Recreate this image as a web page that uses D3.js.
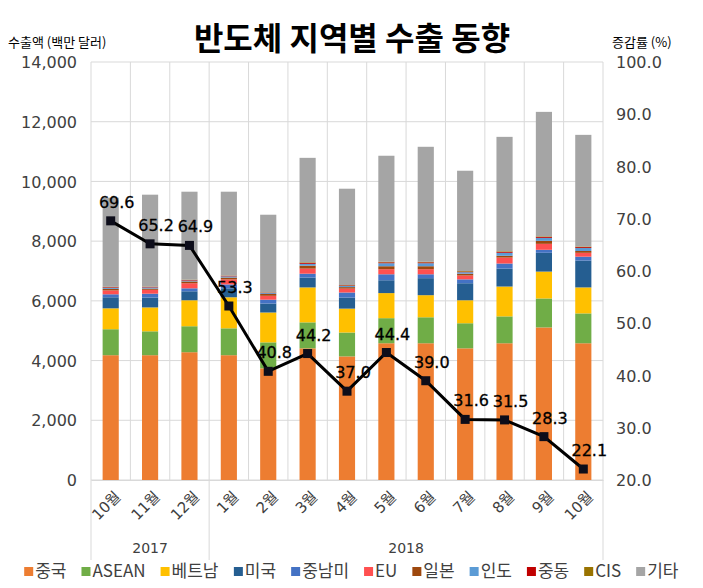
<!DOCTYPE html>
<html><head><meta charset="utf-8">
<script src="https://cdn.jsdelivr.net/npm/d3@7"></script>
<style>body{margin:0;background:#fff}svg{display:block}</style>
</head><body><svg id="c" width="703" height="588"></svg>
<script>
const months = ["10월","11월","12월","1월","2월","3월","4월","5월","6월","7월","8월","9월","10월"];
const years = [{label:"2017", from:0, to:3},{label:"2018", from:3, to:13}];
const regions = ["중국","ASEAN","베트남","미국","중남미","EU","일본","인도","중동","CIS","기타"];
const colors = ["#ED7D31","#70AD47","#FFC000","#255E91","#4472C4","#FF5050","#9E480E","#5B9BD5","#C00000","#997300","#A5A5A5"];
const china   = [4180,4180,4280,4180,3740,4410,4140,4580,4580,4410,4580,5110,4580];
const asean   = [870,800,870,900,870,870,800,840,870,840,900,970,1000];
const vietnam = [700,800,870,1040,1000,1170,800,840,740,770,1000,900,870];
const usa     = [370,330,300,300,300,330,370,430,570,570,600,630,900];
const latam   = [100,130,100,130,130,130,170,200,130,130,170,100,130];
const eu      = [130,130,170,170,130,170,130,170,170,130,200,200,130];
const japan   = [50,40,60,60,60,100,50,100,100,60,60,100,60];
const india   = [40,40,30,40,30,60,40,100,100,50,100,100,100];
const mideast = [20,20,20,20,15,30,20,30,30,20,30,30,30];
const cis     = [10,10,10,10,10,20,10,20,20,20,20,20,20];
const others  = [2985,3076,2946,2806,2600,3500,3226,3550,3850,3358,3833,4170,3740];
const growth  = [69.6,65.2,64.9,53.3,40.8,44.2,37.0,44.4,39.0,31.6,31.5,28.3,22.1];
const leftTicks = [0,2000,4000,6000,8000,10000,12000,14000];
const rightTicks = [20,30,40,50,60,70,80,90,100];

const series = [china,asean,vietnam,usa,latam,eu,japan,india,mideast,cis,others];
const rows = months.map((m,i)=>{const o={i:i}; regions.forEach((r,k)=>o[r]=series[k][i]); return o;});

const svg = d3.select("#c");
const L=91, R=603, T=62, B=480;
const x = d3.scaleBand().domain(d3.range(months.length)).range([L,R]).paddingInner(0.59).paddingOuter(0.295);
const step = x.step();
const y = d3.scaleLinear().domain([0,14000]).range([B,T]);
const y2 = d3.scaleLinear().domain([20,100]).range([B,T]);
const grid = "#D9D9D9";
const numFont = "'DejaVu Sans', 'Noto Sans CJK KR', sans-serif";
const krFont = "'Noto Sans CJK KR', 'Noto Sans', sans-serif";

// horizontal gridlines
svg.append("g").selectAll("line").data(leftTicks).join("line")
  .attr("x1",L).attr("x2",R).attr("y1",d=>y(d)).attr("y2",d=>y(d))
  .attr("stroke",grid).attr("stroke-width",1);
// vertical gridlines at category boundaries
const bounds = d3.range(months.length+1);
const sepIdx = [0,3,13];
svg.append("g").selectAll("line").data(bounds).join("line")
  .attr("x1",d=>L+d*step).attr("x2",d=>L+d*step)
  .attr("y1",T).attr("y2",d=>sepIdx.includes(d)?560:B)
  .attr("stroke",grid).attr("stroke-width",1);

// stacked bars
const stack = d3.stack().keys(regions)(rows);
svg.append("g").selectAll("g").data(stack).join("g")
  .attr("fill",(d,k)=>colors[k])
  .selectAll("rect").data(d=>d).join("rect")
  .attr("x",d=>x(d.data.i)).attr("width",x.bandwidth())
  .attr("y",d=>y(d[1])).attr("height",d=>y(d[0])-y(d[1]));

// left axis
const ga = svg.append("g").attr("transform",`translate(${L-14},0)`)
  .call(d3.axisLeft(y).tickValues(leftTicks).tickFormat(d3.format(",")).tickSize(0));
ga.select(".domain").remove();
ga.selectAll("text").attr("font-family",numFont).attr("font-size",16).attr("fill","#404040").attr("dy","0.35em").attr("x",0);
// right axis
const gr = svg.append("g").attr("transform",`translate(${R+13},0)`)
  .call(d3.axisRight(y2).tickValues(rightTicks).tickFormat(d3.format(".1f")).tickSize(0));
gr.select(".domain").remove();
gr.selectAll("text").attr("font-family",numFont).attr("font-size",16).attr("fill","#404040").attr("dy","0.35em").attr("x",0);

// x axis labels
const gx = svg.append("g").attr("transform",`translate(0,${B})`)
  .call(d3.axisBottom(x).tickFormat(i=>months[i]).tickSize(0));
gx.select(".domain").attr("stroke",grid);
gx.selectAll("text").attr("font-family",numFont).attr("font-size",15).attr("fill","#404040")
  .attr("text-anchor","end").attr("transform","translate(7,14) rotate(-45)").attr("dy","0.35em").attr("y",0).attr("x",0);

// year labels
svg.append("g").selectAll("text").data(years).join("text")
  .attr("x",d=>L+(d.from+d.to)/2*step).attr("y",553)
  .attr("text-anchor","middle").attr("font-family",numFont).attr("font-size",14).attr("fill","#404040")
  .text(d=>d.label);

// line
const lx = i=>x(i)+x.bandwidth()/2;
svg.append("path").datum(growth)
  .attr("d",d3.line().x((d,i)=>lx(i)).y(d=>y2(d)))
  .attr("fill","none").attr("stroke","#000").attr("stroke-width",3);
svg.append("g").selectAll("rect").data(growth).join("rect")
  .attr("x",(d,i)=>lx(i)-4.5).attr("y",d=>y2(d)-4.5).attr("width",9).attr("height",9).attr("fill","#0d0d1a");
svg.append("g").selectAll("text").data(growth).join("text")
  .attr("x",(d,i)=>lx(i)+6).attr("y",d=>y2(d)-13)
  .attr("text-anchor","middle").attr("font-family",numFont).attr("font-size",16).attr("fill","#000")
  .attr("stroke","#000").attr("stroke-width",0.3)
  .text(d=>d.toFixed(1));

// title
svg.append("text").attr("x",352).attr("y",50).attr("text-anchor","middle")
  .attr("font-family",krFont).attr("font-weight","bold").attr("font-size",32).attr("fill","#000")
  .text("반도체 지역별 수출 동향");
svg.append("text").attr("x",8).attr("y",47).attr("font-family",krFont).attr("font-size",13).attr("fill","#000").text("수출액 (백만 달러)");
svg.append("text").attr("x",612).attr("y",47).attr("font-family",krFont).attr("font-size",13).attr("fill","#000").text("증감률 (%)");

// legend
const lg = svg.append("g");
const items = lg.selectAll("g").data(regions).join("g");
items.append("rect").attr("width",9).attr("height",9).attr("y",-10).attr("fill",(d,k)=>colors[k]);
items.append("text").attr("x",11).attr("font-family",krFont).attr("font-size",17).attr("fill","#404040").text(d=>d);
let cx=0; const gap=15;
items.each(function(){const w=this.getBBox().width; d3.select(this).attr("transform",`translate(${cx},0)`); cx+=w+gap;});
const total = cx-gap;
lg.attr("transform",`translate(${(703-total)/2},${577})`);
</script></body></html>
